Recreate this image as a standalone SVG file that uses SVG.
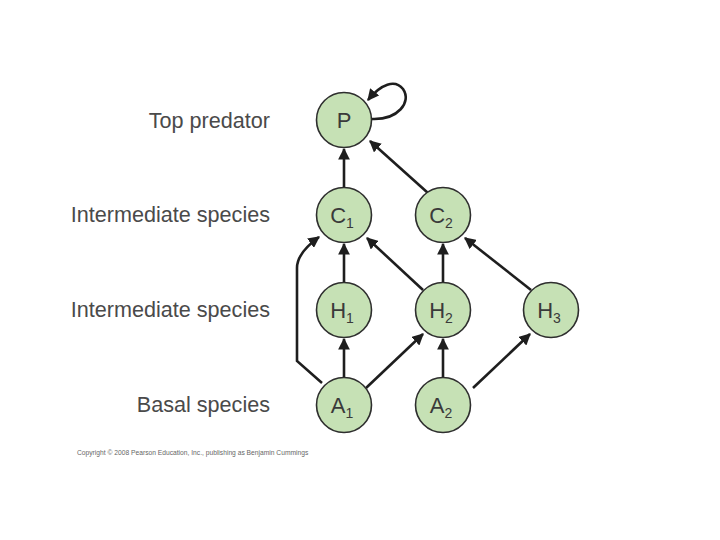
<svg xmlns="http://www.w3.org/2000/svg" width="720" height="540" viewBox="0 0 720 540">
<style>
.n{fill:#c6e1b5;stroke:#2e2e2e;stroke-width:1.6}
.t{font-family:"Liberation Sans",Arial,sans-serif;font-size:22px;fill:#3a3a3a;text-anchor:middle}
.s{font-size:14px}
.lab{font-family:"Liberation Sans",Arial,sans-serif;font-size:21.6px;fill:#4a4a4a;text-anchor:end}
.e{fill:none;stroke:#1e1e1e;stroke-width:2.6;marker-end:url(#ah)}
</style>
<defs>
<marker id="ah" viewBox="0 0 10 10" refX="9" refY="5" markerWidth="4.5" markerHeight="4.5" orient="auto" markerUnits="strokeWidth">
<path d="M0,0L10,5L0,10z" fill="#1e1e1e"/>
</marker>
</defs>
<rect width="720" height="540" fill="#fff"/>
<g id="labels">
<text class="lab" x="270" y="128">Top predator</text>
<text class="lab" x="270" y="222">Intermediate species</text>
<text class="lab" x="270" y="317">Intermediate species</text>
<text class="lab" x="270" y="412">Basal species</text>
<text x="77" y="455" font-family="Liberation Sans,Arial,sans-serif" font-size="6.7" fill="#666">Copyright © 2008 Pearson Education, Inc., publishing as Benjamin Cummings</text>
</g>
<g id="connectors">
<path class="e" d="M372,119 C398,120 412,102 403,89 C395,79 381,84 368,100"/>
<path class="e" d="M344,187 L344,149"/>
<path class="e" d="M428,193 L370,141"/>
<path class="e" d="M344,282 L344,244"/>
<path class="e" d="M423,290 L367,238"/>
<path class="e" d="M443,282 L443,244"/>
<path class="e" d="M531,290 L465,238"/>
<path class="e" d="M344,377 L344,339"/>
<path class="e" d="M366,388 L423,334"/>
<path class="e" d="M443,377 L443,339"/>
<path class="e" d="M473,388 L530,334"/>
<path class="e" d="M322,383 L297,361 L297,268 Q297,253 319,237"/>
</g>
<g id="P"><circle class="n" cx="344" cy="120" r="27.5"/><text class="t" x="344" y="128">P</text></g>
<g id="C1"><circle class="n" cx="344" cy="215" r="27.5"/><text class="t" x="342" y="223">C<tspan class="s" dy="5">1</tspan></text></g>
<g id="C2"><circle class="n" cx="443" cy="215" r="27.5"/><text class="t" x="441" y="223">C<tspan class="s" dy="5">2</tspan></text></g>
<g id="H1"><circle class="n" cx="344" cy="310" r="27.5"/><text class="t" x="342" y="318">H<tspan class="s" dy="5">1</tspan></text></g>
<g id="H2"><circle class="n" cx="443" cy="310" r="27.5"/><text class="t" x="441" y="318">H<tspan class="s" dy="5">2</tspan></text></g>
<g id="H3"><circle class="n" cx="551" cy="310" r="27.5"/><text class="t" x="549" y="318">H<tspan class="s" dy="5">3</tspan></text></g>
<g id="A1"><circle class="n" cx="344" cy="405" r="27.5"/><text class="t" x="342" y="413">A<tspan class="s" dy="5">1</tspan></text></g>
<g id="A2"><circle class="n" cx="443" cy="405" r="27.5"/><text class="t" x="441" y="413">A<tspan class="s" dy="5">2</tspan></text></g>
</svg>
